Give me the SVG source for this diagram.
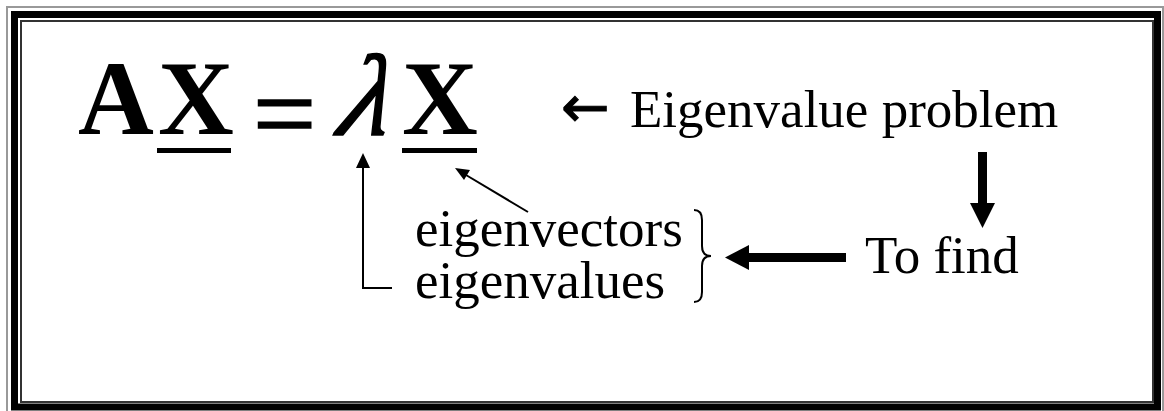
<svg xmlns="http://www.w3.org/2000/svg" width="1164" height="411" viewBox="0 0 1164 411">
<style>
.t{font-family:"Liberation Serif","Times New Roman",serif;fill:#000}
.big{font-size:105px;font-weight:bold}
.lbl{font-size:53px}
.thin{stroke:#000;stroke-width:2;fill:none}
</style>
<rect width="1164" height="411" fill="#fff"/>
<g id="frame">
<rect x="7" y="7" width="1156" height="410" fill="none" stroke="#999" stroke-width="2"/>
<rect x="14.5" y="14.5" width="1143" height="392.5" fill="none" stroke="#000" stroke-width="7"/>
<rect x="21" y="21" width="1132" height="381" fill="none" stroke="#333" stroke-width="2"/>
</g>
<g id="equation">
<text class="t big" x="78" y="134">A</text>
<text class="t big" x="158" y="134">X</text>
<rect x="157" y="148" width="74" height="5" fill="#000"/>
<text class="t" x="253" y="151" style="font-size:112px;stroke:#000;stroke-width:1.6">=</text>
<text class="t" transform="translate(336,135) skewX(-14)" x="0" y="0" style="font-size:116px;font-style:italic;stroke:#000;stroke-width:1.5">λ</text>
<text class="t big" x="402" y="134">X</text>
<rect x="402" y="148" width="75" height="5" fill="#000"/>
</g>
<g id="problem">
<text class="t lbl" y="127"><tspan x="561" style="font-family:'DejaVu Sans',sans-serif;font-size:58px;stroke:#000;stroke-width:1">←</tspan><tspan x="630">Eigenvalue problem</tspan></text>
</g>
<g id="labels">
<text class="t lbl" x="415" y="246">eigenvectors</text>
<text class="t lbl" x="415" y="298">eigenvalues</text>
<path id="brace" d="M694,210 Q702,210 702,220 L702,246 Q702,256 711,256 Q702,256 702,266 L702,292 Q702,302 694,302" fill="none" stroke="#000" stroke-width="2"/>
</g>
<g id="tofind">
<text class="t lbl" x="865" y="273">To find</text>
</g>
<g id="connectors">
<path class="thin" d="M392,288 L363,288 L363,165"/>
<path d="M356,168 L363,153 L370,168 z" fill="#000"/>
<line class="thin" x1="528" y1="212" x2="466" y2="175"/>
<path d="M455,168 L470,170 L464,180 z" fill="#000"/>
<rect x="978" y="152" width="9" height="52" fill="#000"/>
<path d="M970,203 L995,203 L982.5,228 z" fill="#000"/>
<rect x="747" y="253" width="99" height="9" fill="#000"/>
<path d="M725,257.5 L749,245 L749,270 z" fill="#000"/>
</g>
</svg>
